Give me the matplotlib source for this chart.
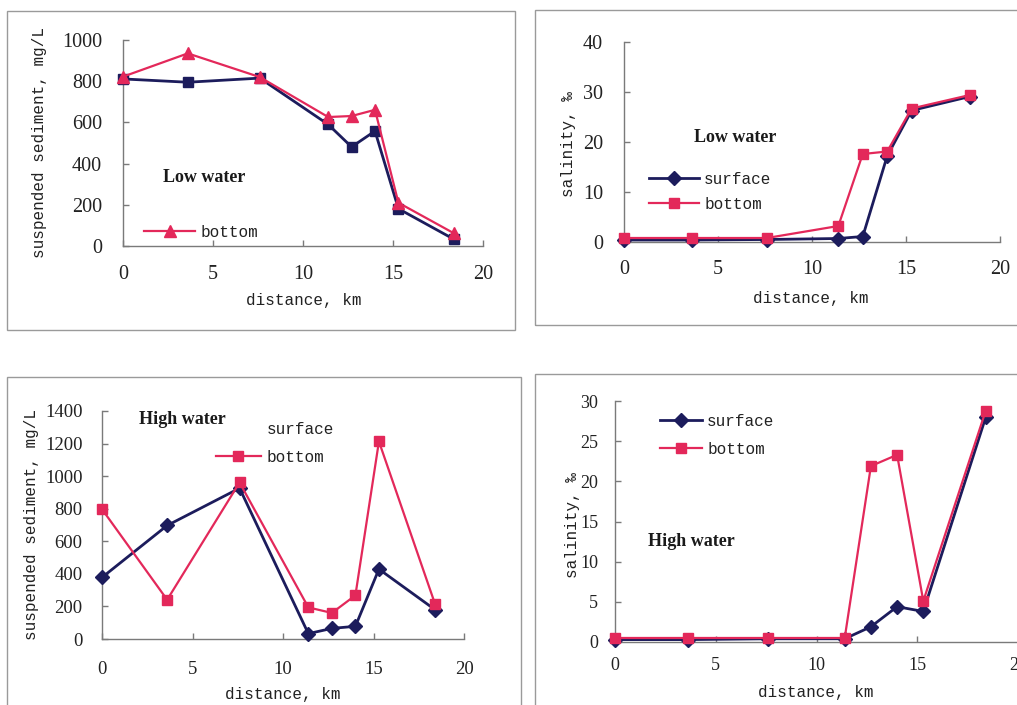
import matplotlib
matplotlib.use("Agg")
import matplotlib.pyplot as plt
from matplotlib.lines import Line2D
from matplotlib.patches import Rectangle

# ---------------- data ----------------
distance = [0, 3.6, 7.6, 11.4, 12.7, 14.0, 15.3, 18.4]

low_ssc_surface = [811, 795, 815, 590, 481, 558, 181, 32]
low_ssc_bottom = [822, 935, 820, 626, 631, 661, 210, 61]

low_sal_surface = [0.4, 0.4, 0.5, 0.7, 1.1, 17.2, 26.3, 29.1]
low_sal_bottom = [0.8, 0.8, 0.8, 3.2, 17.6, 18.1, 26.7, 29.4]

high_ssc_surface = [378, 697, 926, 33, 65, 78, 429, 180]
high_ssc_bottom = [797, 241, 961, 194, 160, 268, 1213, 215]

high_sal_surface = [0.3, 0.3, 0.4, 0.4, 1.9, 4.4, 3.8, 28.0]
high_sal_bottom = [0.5, 0.5, 0.5, 0.5, 21.9, 23.3, 5.1, 28.8]

x_ticks = [0, 5, 10, 15, 20]
ssc_label = "suspended sediment, mg/L"
sal_label = "salinity, \u2030"
x_label = "distance, km"
series_names = ["surface", "bottom"]

# ---------------- style ----------------
W, H = 1017, 705
NAVY = "#1c1c5c"
RED = "#e3285a"
GRAY = "#7a7a7a"
BOX = "#9a9a9a"
MONO = ["Liberation Mono", "DejaVu Sans Mono"]
SERIF = ["Liberation Serif", "DejaVu Serif"]

fig = plt.figure(figsize=(W / 100, H / 100), dpi=100)
fig.patch.set_facecolor("white")


def px_axes(l, t, r, b):
    return fig.add_axes([l / W, 1 - b / H, (r - l) / W, (b - t) / H])


def box(l, t, r, b):
    fig.patches.append(Rectangle((l / W, 1 - b / H), (r - l) / W, (b - t) / H,
                                 transform=fig.transFigure, fill=False,
                                 edgecolor=BOX, linewidth=1.0, zorder=-1))


def style_axes(ax, geom, ylim, yticks, ylabel, ylab_px, xlab_px, xpad, ypad, tsize):
    l, t, r, b = geom
    ax.set_xlim(0, 20)
    ax.set_ylim(*ylim)
    ax.set_xticks(x_ticks)
    ax.set_yticks(yticks)
    for s in ("top", "right"):
        ax.spines[s].set_visible(False)
    for s in ("left", "bottom"):
        ax.spines[s].set_color(GRAY)
        ax.spines[s].set_linewidth(1.0)
    ax.tick_params(axis="both", direction="in", length=4, width=1.0,
                   color=GRAY, labelsize=tsize)
    ax.tick_params(axis="x", pad=xpad)
    ax.tick_params(axis="y", pad=ypad)
    for lab in ax.get_xticklabels() + ax.get_yticklabels():
        lab.set_fontfamily(SERIF)
        lab.set_color("#222222")
    ax.set_facecolor("none")
    ax.set_ylabel(ylabel, fontsize=11.5, family=MONO, color="#222222")
    ax.set_xlabel(x_label, fontsize=11.5, family=MONO, color="#222222")
    ax.yaxis.set_label_coords((ylab_px[0] - l) / (r - l), (b - ylab_px[1]) / (b - t))
    ax.xaxis.set_label_coords((xlab_px[0] - l) / (r - l), (b - xlab_px[1]) / (b - t))
    ax.yaxis.label.set_verticalalignment("center")
    ax.xaxis.label.set_verticalalignment("center")


def add_legend(ax, handles, labels, x_px, y_px, handlelength, spacing):
    leg = ax.legend(handles, labels, loc="upper left",
                    bbox_to_anchor=(x_px / W, 1 - y_px / H),
                    bbox_transform=fig.transFigure, frameon=False,
                    prop={"family": MONO, "size": 11.5},
                    handlelength=handlelength, handletextpad=0.35,
                    labelspacing=spacing, borderpad=0, borderaxespad=0)
    for t in leg.get_texts():
        t.set_color("#222222")
    return leg


def title_text(x_px, y_px, s):
    fig.text(x_px / W, 1 - y_px / H, s, ha="center", va="center",
             family=SERIF, fontsize=13, fontweight="bold", color="#1a1a1a")


# panel frames
box(7, 11, 515, 330)
box(535, 10, 1030, 325)
box(7, 377, 521, 720)
box(535, 374, 1030, 720)

# ---------------- panel 1: low water SSC ----------------
g1 = (123, 40, 483, 246)
ax1 = px_axes(*g1)
ax1.plot(distance, low_ssc_surface, color=NAVY, lw=2, marker="s", ms=7.5,
         mec=NAVY, mfc=NAVY, clip_on=False, zorder=3)
ax1.plot(distance, low_ssc_bottom, color=RED, lw=1.6, marker="^", ms=8.5,
         mec=RED, mfc=RED, clip_on=False, zorder=4)
style_axes(ax1, g1, (0, 1000), range(0, 1001, 200), ssc_label,
           (40, 142), (304, 300), 14, 15, 14.5)
h_empty = Line2D([], [], color="none")
h_tri = Line2D([], [], color=RED, lw=1.6, marker="^", ms=8.5, mec=RED, mfc=RED)
add_legend(ax1, [h_empty, h_tri], series_names, 144, 200, 3.2, 0.62)
# the "surface" entry is largely hidden in the original figure
fig.patches.append(Rectangle((195 / W, 1 - 212.5 / H), 95 / W, 22 / H,
                             transform=fig.transFigure, facecolor="white",
                             edgecolor="none", zorder=20))
title_text(204, 178, "Low water")

# ---------------- panel 2: low water salinity ----------------
g2 = (624, 42, 1000, 242)
ax2 = px_axes(*g2)
ax2.plot(distance, low_sal_surface, color=NAVY, lw=2, marker="D", ms=7,
         mec=NAVY, mfc=NAVY, clip_on=False, zorder=3)
ax2.plot(distance, low_sal_bottom, color=RED, lw=1.6, marker="s", ms=7,
         mec=RED, mfc=RED, clip_on=False, zorder=4)
style_axes(ax2, g2, (0, 40), range(0, 41, 10), sal_label,
           (568, 144), (811, 298), 13, 15, 14.5)
h_dia = Line2D([], [], color=NAVY, lw=2, marker="D", ms=7, mec=NAVY, mfc=NAVY)
h_sq = Line2D([], [], color=RED, lw=1.6, marker="s", ms=7, mec=RED, mfc=RED)
add_legend(ax2, [h_dia, h_sq], series_names, 649, 172, 3.1, 0.62)
title_text(735, 137, "Low water")

# ---------------- panel 3: high water SSC ----------------
g3 = (102, 411, 464, 639)
ax3 = px_axes(*g3)
ax3.plot(distance, high_ssc_surface, color=NAVY, lw=2, marker="D", ms=7,
         mec=NAVY, mfc=NAVY, clip_on=False, zorder=3)
ax3.plot(distance, high_ssc_bottom, color=RED, lw=1.6, marker="s", ms=7,
         mec=RED, mfc=RED, clip_on=False, zorder=4)
style_axes(ax3, g3, (0, 1400), range(0, 1401, 200), ssc_label,
           (32, 525), (283, 695), 16, 14, 13.5)
add_legend(ax3, [h_empty, h_sq], series_names, 216, 422, 2.8, 0.8)
title_text(182, 420, "High water")

# ---------------- panel 4: high water salinity ----------------
g4 = (615, 401, 1018, 642)
ax4 = px_axes(*g4)
ax4.plot(distance, high_sal_surface, color=NAVY, lw=2, marker="D", ms=7,
         mec=NAVY, mfc=NAVY, clip_on=False, zorder=3)
ax4.plot(distance, high_sal_bottom, color=RED, lw=1.6, marker="s", ms=7,
         mec=RED, mfc=RED, clip_on=False, zorder=4)
style_axes(ax4, g4, (0, 30), range(0, 31, 5), sal_label,
           (572, 525), (816, 692), 11, 12, 13)
add_legend(ax4, [h_dia, h_sq], series_names, 660, 414, 2.6, 0.8)
title_text(691, 542, "High water")

fig.savefig("out.png", dpi=100, facecolor="white")
